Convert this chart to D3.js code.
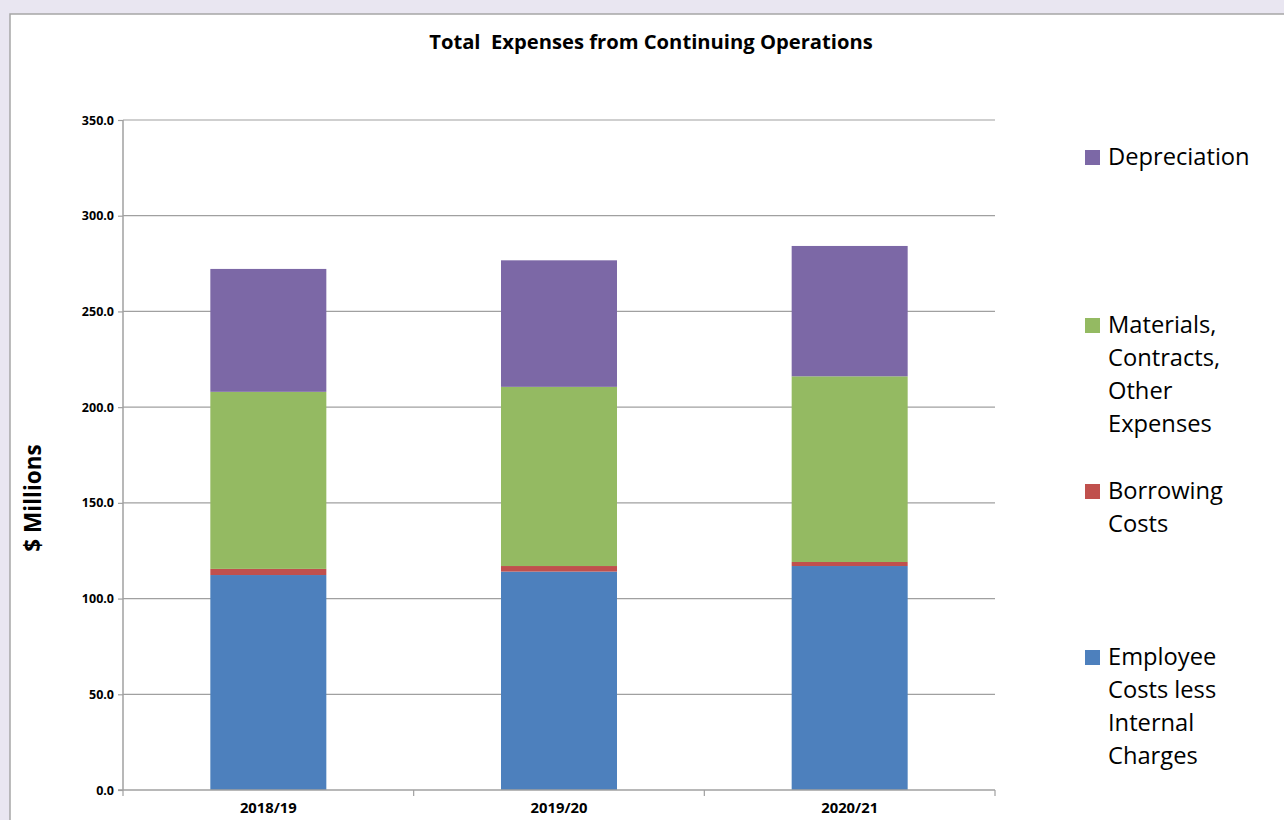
<!DOCTYPE html>
<html><head><meta charset="utf-8">
<script src="https://cdn.jsdelivr.net/npm/d3@7"></script>
<style>
html,body{margin:0;padding:0;background:#E9E6F1;}
svg{display:block;}
</style></head><body>
<svg id="c" width="1284" height="820"></svg>
<script>
const categories = ["2018/19", "2019/20", "2020/21"];
const employee = [112.3, 114.1, 117.0];
const borrowing = [3.2, 2.9, 2.1];
const materials = [92.5, 93.6, 97.0];
const depreciation = [64.2, 66.1, 68.1];
const yTicks = [0, 50, 100, 150, 200, 250, 300, 350];
const seriesNames = ["Employee Costs less Internal Charges", "Borrowing Costs", "Materials, Contracts, Other Expenses", "Depreciation"];
const legendLines = [["Depreciation"], ["Materials,", "Contracts,", "Other", "Expenses"], ["Borrowing", "Costs"], ["Employee", "Costs less", "Internal", "Charges"]];
const colors = ["#4D80BD", "#C0504D", "#94BA62", "#7C68A6"];

(function () {
const svg = d3.select("#c");
svg.append("rect").attr("x", 10).attr("y", 14).attr("width", 1290).attr("height", 820)
  .attr("fill", "#fff").attr("stroke", "#A6A6A6").attr("stroke-width", 1.5);

const pl = 123, pr = 995, pt = 120, pb = 790;
const y = d3.scaleLinear().domain([0, 350]).range([pb, pt]);

const font = "'Open Sans', sans-serif";

// gridlines
svg.append("g").selectAll("line").data(yTicks.filter(d => d > 0)).join("line")
  .attr("x1", pl).attr("x2", pr).attr("y1", d => y(d)).attr("y2", d => y(d))
  .attr("stroke", "#A0A0A0").attr("stroke-width", 1.2);

// stacked bars
const rows = categories.map((c, i) => ({cat: c, s0: employee[i], s1: borrowing[i], s2: materials[i], s3: depreciation[i]}));
const stack = d3.stack().keys(["s0", "s1", "s2", "s3"])(rows);
const xb = d3.scaleBand().domain(categories).range([pl, pr]);
const bw = 116;
svg.append("g").selectAll("g").data(stack).join("g").attr("fill", (d, i) => colors[i])
  .selectAll("rect").data(d => d).join("rect")
  .attr("x", d => xb(d.data.cat) + xb.bandwidth() / 2 - bw / 2)
  .attr("width", bw)
  .attr("y", d => y(d[1])).attr("height", d => y(d[0]) - y(d[1]));

// y axis
const yAxis = svg.append("g").attr("transform", `translate(${pl},0)`)
  .call(d3.axisLeft(y).tickValues(yTicks).tickFormat(d3.format(".1f")).tickSize(5).tickPadding(4));
yAxis.select(".domain").attr("stroke", "#A0A0A0").attr("stroke-width", 1.5).attr("d", `M0,${pt}V${pb}`);
yAxis.selectAll(".tick line").attr("stroke", "#A0A0A0").attr("stroke-width", 1.2);
yAxis.selectAll("text").attr("font-family", font).attr("font-weight", "bold").attr("font-size", 12.5).attr("fill", "#000");

// x axis
const xAxis = svg.append("g").attr("transform", `translate(0,${pb})`)
  .call(d3.axisBottom(xb).tickSize(0).tickPadding(12));
xAxis.select(".domain").remove();
svg.append("line").attr("x1", pl - 5).attr("x2", pr).attr("y1", pb).attr("y2", pb)
  .attr("stroke", "#A0A0A0").attr("stroke-width", 1.5);
svg.append("g").selectAll("line").data(d3.range(categories.length + 1)).join("line")
  .attr("x1", i => pl + i * xb.step()).attr("x2", i => pl + i * xb.step())
  .attr("y1", pb).attr("y2", pb + 6).attr("stroke", "#A0A0A0").attr("stroke-width", 1.2);
xAxis.selectAll("text").attr("font-family", font).attr("font-weight", "bold").attr("font-size", 14.8).attr("fill", "#000");

// title
svg.append("text").attr("x", 651).attr("y", 49).attr("text-anchor", "middle")
  .attr("font-family", font).attr("font-weight", "bold").attr("font-size", 20.2)
  .style("white-space", "pre")
  .text("Total  Expenses from Continuing Operations");

// y label
svg.append("text").attr("transform", "translate(41,498) rotate(-90)").attr("text-anchor", "middle")
  .attr("font-family", font).attr("font-weight", "bold").attr("font-size", 22.5).text("$ Millions");

// legend
const legendY = [157, 325, 491, 657];
const lg = svg.append("g");
legendLines.forEach((lines, k) => {
  const si = 3 - k;
  lg.append("rect").attr("x", 1085).attr("y", legendY[k] - 7).attr("width", 15).attr("height", 15).attr("fill", colors[si]);
  const t = lg.append("text").attr("font-family", font).attr("font-size", 23.7).attr("fill", "#000");
  lines.forEach((ln, j) => {
    t.append("tspan").attr("x", 1108).attr("y", legendY[k] + 8 + j * 33).text(ln);
  });
});
})();
</script>
</body></html>
